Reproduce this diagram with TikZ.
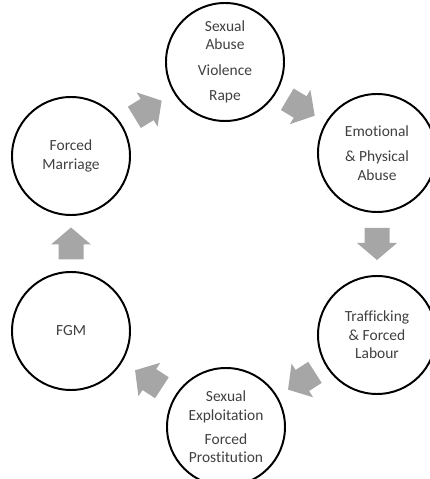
\documentclass[tikz,border=0pt]{standalone}
\usepackage{fontspec}
\setmainfont{Carlito}[Ligatures=NoCommon]
\usetikzlibrary{calc}

\definecolor{arrowgray}{RGB}{166,166,166}
\definecolor{textgray}{RGB}{64,64,64}

\tikzset{
  issue/.style={circle, draw=black, line width=1.4pt, minimum size=2.95cm,
    inner sep=0pt, align=center, text=textgray,
    font=\fontsize{11}{13.2}\selectfont},
}

% fat grey arrow, centred at #1, pointing at angle #2
\newcommand{\cyclearrow}[2]{%
  \fill[arrowgray, shift={(#1)}, rotate=#2]
    (-0.4,-0.3125) -- (-0.025,-0.3125) -- (-0.025,-0.5) -- (0.4,0)
    -- (-0.025,0.5) -- (-0.025,0.3125) -- (-0.4,0.3125) -- cycle;}

\begin{document}
\begin{tikzpicture}
\useasboundingbox (0,0) rectangle (10.725,11.975);

\node[issue] (abuse) at (5.625,10.425) {Sexual\\Abuse\\[5pt]Violence\\[5pt]Rape};
\node[issue] (physical) at (9.425,8.15) {Emotional\\[5pt]\& Physical\\Abuse};
\node[issue] (labour) at (9.425,3.6) {Trafficking\\\& Forced\\Labour};
\node[issue] (exploit) at (5.65,1.3) {Sexual\\Exploitation\\[4pt]Forced\\Prostitution};
\node[issue] (fgm) at (1.775,3.7) {FGM};
\node[issue] (marriage) at (1.775,8.075) {Forced\\Marriage};

\cyclearrow{$(marriage)!0.5!(abuse)$}{31.4}
\cyclearrow{$(abuse)!0.5!(physical)$}{-30.9}
\cyclearrow{$(physical)!0.5!(labour)$}{-90}
\cyclearrow{$(labour)!0.5!(exploit)$}{212.7}
\cyclearrow{$(exploit)!0.5!(fgm)$}{146.9}
\cyclearrow{$(fgm)!0.5!(marriage)$}{90}
\end{tikzpicture}
\end{document}
